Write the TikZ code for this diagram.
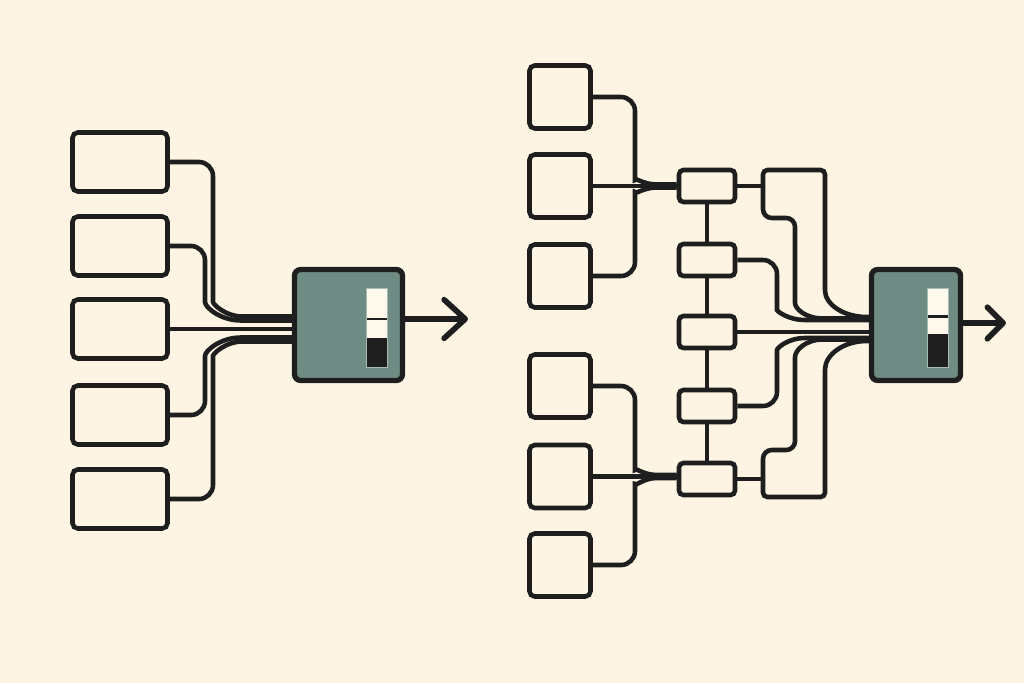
\documentclass[tikz,border=0pt]{standalone}
\usepackage{xcolor}
\usepackage{tikz}
\usetikzlibrary{arrows.meta, calc}

\definecolor{paper}{HTML}{FDF4E3}
\definecolor{ink}{HTML}{1E1E1E}
\definecolor{slate}{HTML}{6F8C84}
\definecolor{chalk}{HTML}{FFF8EC}

\begin{document}
\begin{tikzpicture}[x=0.02cm, y=-0.02cm,
    wire/.style={draw=ink, line width=2.6pt},
    widebox/.style={draw=ink, line width=2.6pt, rounded corners=3pt, fill=paper,
        inner sep=0pt, minimum width=1.9cm, minimum height=1.18cm},
    squarebox/.style={draw=ink, line width=2.6pt, rounded corners=3pt, fill=paper,
        inner sep=0pt, minimum width=1.22cm, minimum height=1.26cm},
    cellbox/.style={draw=ink, line width=2.6pt, rounded corners=2.5pt, fill=paper,
        inner sep=0pt, minimum width=1.12cm, minimum height=0.64cm},
    mixbox/.style={draw=ink, line width=3pt, rounded corners=3.5pt, fill=slate,
        inner sep=0pt, minimum height=2.22cm},
    outarrow/.style={draw=ink, line width=3.2pt}
]
    % Background
    \fill[paper] (0,0) rectangle (1024,683);
    \useasboundingbox (0,0) rectangle (1024,683);

    % Left: five sources into one mixer
    \node[widebox] (l1) at (120,162) {};
    \node[widebox] (l2) at (120,246) {};
    \node[widebox] (l3) at (120,329) {};
    \node[widebox] (l4) at (120,415) {};
    \node[widebox] (l5) at (120,499) {};
    \node[mixbox, minimum width=2.16cm] (m1) at (348.5,325) {};

    \draw[wire] (l1.east) [rounded corners=8pt] -| (213,288) [sharp corners]
        .. controls (213,304) and (225,316.5) .. (243,316.5) -- (m1.west |- 0,316.5);
    \draw[wire] (l2.east) [rounded corners=8pt] -| (205,288) [sharp corners]
        .. controls (205,307) and (220,320.5) .. (241,320.5) -- (m1.west |- 0,320.5);
    \draw[wire] (l3.east) -- (m1.west |- l3.east);
    \draw[wire] (l4.east) [rounded corners=8pt] -| (205,370) [sharp corners]
        .. controls (205,351) and (220,337.5) .. (241,337.5) -- (m1.west |- 0,337.5);
    \draw[wire] (l5.east) [rounded corners=8pt] -| (213,370) [sharp corners]
        .. controls (213,354) and (225,341.5) .. (243,341.5) -- (m1.west |- 0,341.5);

    % Level gauge (left mixer)
    \fill[chalk] (366,288) rectangle (387,338);
    \fill[ink] (366,338) rectangle (387,367);
    \draw[ink, line width=1.4pt] (366,319) -- (387,319);
    \draw[slate!60!white, line width=0.5pt] (366,288) rectangle (387,367);

    \coordinate (o1) at (468,319);
    \draw[outarrow, -{Straight Barb[length=12pt,width=22pt,round]}] (m1.east |- o1) -- (o1);

    % Right: six sources, five cells, one mixer
    \node[squarebox] (q1) at (560,97) {};
    \node[squarebox] (q2) at (560,186) {};
    \node[squarebox] (q3) at (560,276) {};
    \node[squarebox] (q4) at (560,386) {};
    \node[squarebox] (q5) at (560,476.5) {};
    \node[squarebox] (q6) at (560,565) {};

    \node[cellbox] (c1) at (707,186) {};
    \node[cellbox] (c2) at (707,260) {};
    \node[cellbox] (c3) at (707,332) {};
    \node[cellbox] (c4) at (707,406) {};
    \node[cellbox] (c5) at (707,479) {};

    \node[mixbox, minimum width=1.78cm] (m2) at (916,325) {};

    % sources to cells
    \draw[wire] (q1.east) [rounded corners=8pt] -| (635,166) [sharp corners]
        .. controls (635,177) and (643,184.5) .. (657,184.5) -- (c1.west |- 0,184.5);
    \draw[wire] (q2.east) -- (c1.west);
    \draw[wire] (q3.east) [rounded corners=8pt] -| (635,206) [sharp corners]
        .. controls (635,195) and (643,187.5) .. (657,187.5) -- (c1.west |- 0,187.5);

    \draw[wire] (q4.east) [rounded corners=8pt] -| (635,456) [sharp corners]
        .. controls (635,467) and (643,475) .. (657,475) -- (c5.west |- 0,475);
    \draw[wire] (q5.east) -- (c5.west |- q5.east);
    \draw[wire] (q6.east) [rounded corners=8pt] -| (635,498) [sharp corners]
        .. controls (635,487) and (643,478) .. (657,478) -- (c5.west |- 0,478);

    % cell chain
    \draw[wire] (c1.south) -- (c2.north);
    \draw[wire] (c2.south) -- (c3.north);
    \draw[wire] (c3.south) -- (c4.north);
    \draw[wire] (c4.south) -- (c5.north);

    % cells to mixer
    \coordinate (j1) at (763,186);
    \coordinate (j5) at (763,479);
    \draw[wire] (c1.east) -- (j1);
    \draw[wire] (j1) [rounded corners=2.5pt] |- (825,170) -- (825,286) [sharp corners]
        .. controls (825,304) and (843,317) .. (867,317) -- (m2.west |- 0,317);
    \draw[wire] (j1) [rounded corners=5pt] -- (763,218) -- (795,218) -- (795,294) [sharp corners]
        .. controls (795,309) and (806,318.5) .. (823,318.5) -- (m2.west |- 0,318.5);
    \draw[wire] (c2.east) [rounded corners=8pt] -| (777,296) [sharp corners]
        .. controls (777,311) and (788,320) .. (805,320) -- (m2.west |- 0,320);
    \draw[wire] (c3.east) -- (m2.west |- c3.east);
    \draw[wire] (c4.east) [rounded corners=8pt] -| (777,364) [sharp corners]
        .. controls (777,348) and (788,338) .. (805,338) -- (m2.west |- 0,338);
    \draw[wire] (c5.east) -- (j5);
    \draw[wire] (j5) [rounded corners=5pt] -- (763,450) -- (795,450) -- (795,366) [sharp corners]
        .. controls (795,350) and (806,339.5) .. (823,339.5) -- (m2.west |- 0,339.5);
    \draw[wire] (j5) [rounded corners=2.5pt] |- (825,497) -- (825,374) [sharp corners]
        .. controls (825,355) and (843,341) .. (867,341) -- (m2.west |- 0,341);

    % Level gauge (right mixer)
    \fill[chalk] (927,288) rectangle (948,334);
    \fill[ink] (927,334) rectangle (948,367);
    \draw[ink, line width=1.4pt] (927,316.5) -- (948,316.5);
    \draw[slate!60!white, line width=0.5pt] (927,288) rectangle (948,367);

    \coordinate (o2) at (1006,323);
    \draw[outarrow, -{Straight Barb[length=9pt,width=18pt,round]}] (m2.east |- o2) -- (o2);
\end{tikzpicture}
\end{document}
